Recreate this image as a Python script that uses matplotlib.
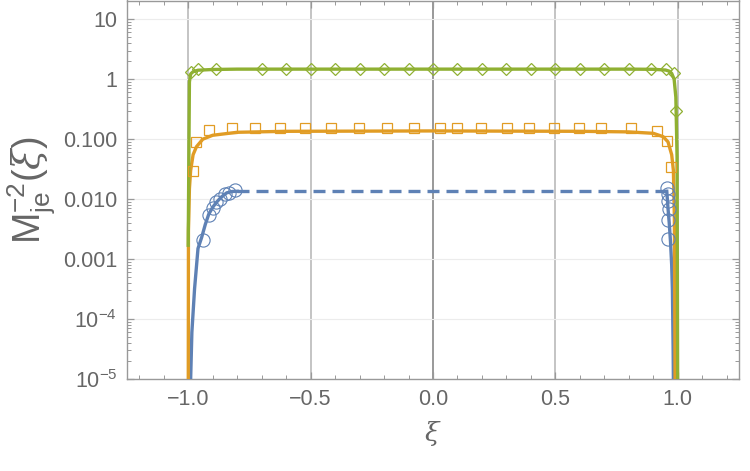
import numpy as np
import matplotlib.pyplot as plt
from matplotlib.ticker import FixedLocator, NullFormatter

plt.rcParams['font.family'] = ['Liberation Sans', 'DejaVu Sans']
plt.rcParams['mathtext.fontset'] = 'custom'
plt.rcParams['mathtext.rm'] = 'Liberation Sans'
plt.rcParams['mathtext.it'] = 'DejaVu Serif:italic'
plt.rcParams['mathtext.bf'] = 'Liberation Sans:bold'

# colours (Mathematica defaults)
c_blue = '#5E81B5'
c_orange = '#E19C24'
c_green = '#8FB032'

# --- curves ---
green_x = [-1.0, -0.995, -0.99, -0.98, -0.96, -0.9, -0.8, -0.5, 0.0, 0.5, 0.8, 0.9, 0.95, 0.965, 0.975, 0.985, 0.992, 0.997, 1.0]
green_y = [0.0017, 0.9, 1.22, 1.33, 1.41, 1.45, 1.47, 1.47, 1.47, 1.47, 1.47, 1.46, 1.42, 1.36, 1.25, 1.0, 0.5, 0.05, 1e-6]

orange_x = [-1.0, -0.999, -0.995, -0.99, -0.98, -0.966, -0.94, -0.9, -0.8, -0.6, 0.0, 0.6, 0.8, 0.9, 0.94, 0.96, 0.975, 0.982, 0.986, 0.99]
orange_y = [1e-6, 0.003, 0.015, 0.03, 0.055, 0.075, 0.1, 0.116, 0.13, 0.135, 0.137, 0.135, 0.132, 0.125, 0.11, 0.09, 0.055, 0.03, 0.005, 1e-6]

blue_left_x = [-0.992, -0.99, -0.985, -0.974, -0.96, -0.945, -0.93, -0.916, -0.9, -0.884, -0.865, -0.843, -0.82, -0.8]
blue_left_y = [1e-6, 1e-5, 6e-5, 3.2e-4, 1.5e-3, 2.3e-3, 3.8e-3, 5.6e-3, 7.3e-3, 8.9e-3, 0.0108, 0.0127, 0.0134, 0.0135]
blue_dash_x = [-0.8, 0.955]
blue_dash_y = [0.0135, 0.0135]
blue_right_x = [0.955, 0.96, 0.965, 0.97, 0.975, 0.978, 0.981, 0.984]
blue_right_y = [0.0135, 0.007, 0.004, 0.002, 8e-4, 3e-4, 3e-5, 1e-6]

# --- markers ---
diam_x = [-0.99, -0.961, -0.888, -0.7, -0.6, -0.5, -0.4, -0.3, -0.2, -0.1, 0.0, 0.1, 0.2, 0.3, 0.4, 0.5, 0.6, 0.7, 0.8, 0.89, 0.95, 0.985, 0.993]
diam_y = [1.3, 1.45, 1.47, 1.47, 1.47, 1.47, 1.47, 1.47, 1.47, 1.47, 1.47, 1.47, 1.47, 1.47, 1.47, 1.47, 1.47, 1.47, 1.47, 1.47, 1.45, 1.26, 0.29]

sq_x = [-0.98, -0.969, -0.916, -0.823, -0.729, -0.623, -0.521, -0.415, -0.301, -0.187, -0.077, 0.029, 0.098, 0.195, 0.301, 0.391, 0.493, 0.595, 0.688, 0.81, 0.917, 0.957, 0.974]
sq_y = [0.029, 0.089, 0.14, 0.152, 0.155, 0.155, 0.155, 0.155, 0.155, 0.155, 0.155, 0.155, 0.155, 0.155, 0.155, 0.155, 0.155, 0.155, 0.152, 0.152, 0.136, 0.093, 0.034]

circ_x = [-0.94, -0.915, -0.9, -0.885, -0.872, -0.85, -0.835, -0.81, 0.956, 0.96, 0.962, 0.963, 0.962, 0.96]
circ_y = [0.0021, 0.0055, 0.0072, 0.0088, 0.010, 0.012, 0.0128, 0.014, 0.0155, 0.012, 0.0093, 0.0069, 0.0044, 0.0022]

ytick_vals = [1e-5, 1e-4, 1e-3, 1e-2, 1e-1, 1, 10]
ytick_labels = [r'$10^{-5}$', r'$10^{-4}$', '0.001', '0.010', '0.100', '1', '10']
xtick_vals = [-1.0, -0.5, 0.0, 0.5, 1.0]
xtick_labels = ['\u22121.0', '\u22120.5', '0.0', '0.5', '1.0']

fig = plt.figure(figsize=(7.5, 4.71), dpi=100)
ax = fig.add_axes([127 / 750, 1 - 379 / 471, (739 - 127) / 750, 378.5 / 471])

# grid
for xv in xtick_vals:
    ax.axvline(xv, color='#999999' if xv == 0 else '#c4c4c4', lw=1.4, zorder=0)
for yv in ytick_vals:
    ax.axhline(yv, color='#ececec', lw=0.8, zorder=0)

ax.plot(blue_left_x, blue_left_y, color=c_blue, lw=2.4, zorder=3)
ax.plot(blue_dash_x, blue_dash_y, color=c_blue, lw=2.4, ls=(0, (3.6, 2.1)), zorder=3)
ax.plot(blue_right_x, blue_right_y, color=c_blue, lw=2.4, zorder=3)
ax.plot(orange_x, orange_y, color=c_orange, lw=2.4, zorder=4)
ax.plot(green_x, green_y, color=c_green, lw=2.4, zorder=5)

ax.plot(circ_x, circ_y, 'o', ms=9.5, mfc='none', mec=c_blue, mew=0.8, zorder=6)
ax.plot(sq_x, sq_y, 's', ms=7, mfc='none', mec=c_orange, mew=0.9, zorder=6)
ax.plot(diam_x, diam_y, 'D', ms=6.5, mfc='none', mec=c_green, mew=0.9, zorder=6)

ax.set_yscale('log')
ax.set_xlim(-1.25, 1.25)
ax.set_ylim(1e-5, 20.5)

ax.xaxis.set_major_locator(FixedLocator(xtick_vals))
ax.set_xticklabels(xtick_labels)
ax.xaxis.set_minor_locator(FixedLocator(np.arange(-1.2, 1.25, 0.1)))
ax.yaxis.set_major_locator(FixedLocator(ytick_vals))
ax.set_yticklabels(ytick_labels)
minor_y = [m * 10.0 ** e for e in range(-5, 2) for m in range(2, 10)]
ax.yaxis.set_minor_locator(FixedLocator(minor_y))
ax.yaxis.set_minor_formatter(NullFormatter())

ax.tick_params(which='both', direction='in', top=True, right=True, color='#999999',
               labelcolor='#666666', labelsize=15.5)
ax.tick_params(which='major', length=5, width=0.9, pad=7)
ax.tick_params(which='minor', length=3, width=0.7)
for s in ax.spines.values():
    s.set_color('#999999')
    s.set_linewidth(1.0)

ax.set_xlabel(r'$\xi$', fontsize=19, color='#666666', labelpad=7)
ax.set_ylabel(r'M$^{-2}_{\mathrm{je}}$($\xi$)', fontsize=27, color='#666666', labelpad=4)

fig.savefig('out.png', dpi=100)
